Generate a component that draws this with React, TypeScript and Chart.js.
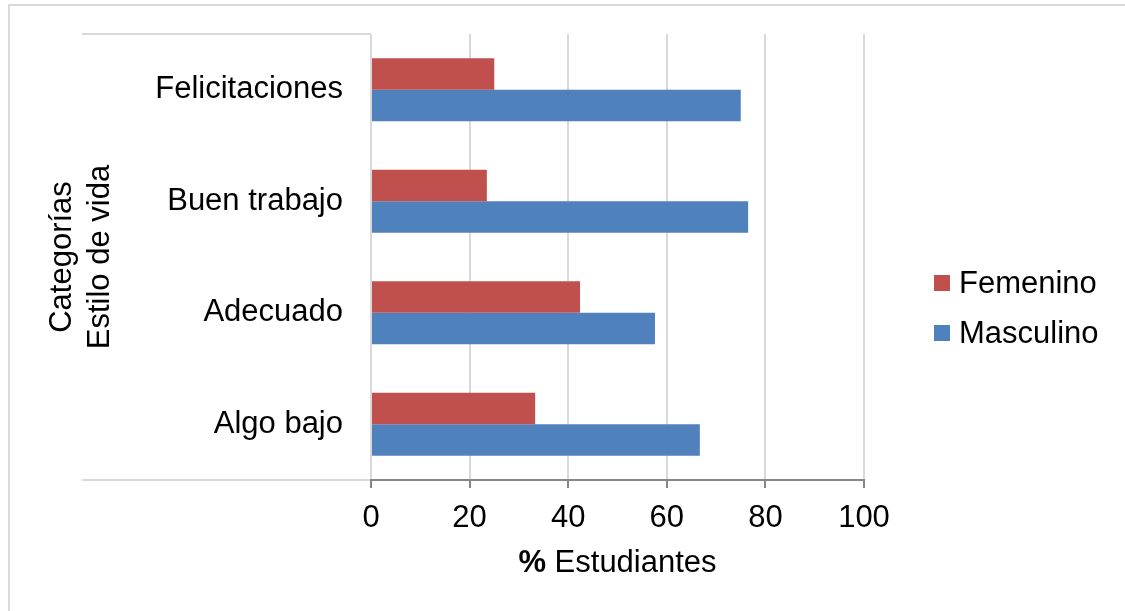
import React, { useEffect, useRef } from "react";
import { Chart, registerables } from "chart.js";

Chart.register(...registerables);

const categories = ["Felicitaciones", "Buen trabajo", "Adecuado", "Algo bajo"];
const femenino = [25, 23.5, 42.4, 33.3];
const masculino = [75, 76.5, 57.6, 66.7];
const xTicks = [0, 20, 40, 60, 80, 100];
const seriesNames = ["Femenino", "Masculino"];
const seriesColors = ["#C0504D", "#4F81BD"];
const yTitle = ["Categorías", "Estilo de vida"];
const xTitleBold = "%";
const xTitleRest = " Estudiantes";

const FONT = "'Liberation Sans', Arial, sans-serif";

const decorPlugin = {
  id: "decor",
  beforeDraw(chart: any) {
    const { ctx, chartArea } = chart;
    ctx.save();
    ctx.strokeStyle = "#d9d9d9";
    ctx.lineWidth = 2;
    // outer frame
    ctx.beginPath();
    ctx.moveTo(9, 611);
    ctx.lineTo(9, 5);
    ctx.lineTo(1125, 5);
    ctx.stroke();
    // category label area lines
    ctx.beginPath();
    ctx.moveTo(82, chartArea.top);
    ctx.lineTo(chartArea.left, chartArea.top);
    ctx.moveTo(82, chartArea.bottom);
    ctx.lineTo(chartArea.left, chartArea.bottom);
    ctx.stroke();
    ctx.restore();
  },
  afterDraw(chart: any) {
    const { ctx, chartArea } = chart;
    ctx.save();
    ctx.fillStyle = "#000";
    ctx.textBaseline = "middle";
    ctx.font = `31px ${FONT}`;
    // y title
    const cy = 257;
    ctx.save();
    ctx.translate(62, cy);
    ctx.rotate(-Math.PI / 2);
    ctx.textAlign = "center";
    ctx.fillText(yTitle[0], 0, 0);
    ctx.restore();
    ctx.save();
    ctx.translate(100, cy);
    ctx.rotate(-Math.PI / 2);
    ctx.textAlign = "center";
    ctx.fillText(yTitle[1], 0, 0);
    ctx.restore();
    // x title
    ctx.textAlign = "left";
    ctx.font = `bold 31px ${FONT}`;
    const wb = ctx.measureText(xTitleBold).width;
    ctx.font = `31px ${FONT}`;
    const wr = ctx.measureText(xTitleRest).width;
    const cx = (chartArea.left + chartArea.right) / 2;
    const sx = cx - (wb + wr) / 2;
    ctx.font = `bold 31px ${FONT}`;
    ctx.fillText(xTitleBold, sx, 563);
    ctx.font = `31px ${FONT}`;
    ctx.fillText(xTitleRest, sx + wb, 563);
    // legend
    const ly = [283, 333];
    seriesNames.forEach((name, i) => {
      ctx.fillStyle = seriesColors[i];
      ctx.fillRect(934, ly[i] - 8, 16, 16);
      ctx.fillStyle = "#000";
      ctx.fillText(name, 959, ly[i] + 1);
    });
    ctx.restore();
  },
};

export default function App() {
  const ref = useRef<HTMLCanvasElement>(null);
  useEffect(() => {
    const chart = new Chart(ref.current!, {
      type: "bar",
      data: {
        labels: categories,
        datasets: [
          {
            label: seriesNames[0],
            data: femenino,
            backgroundColor: seriesColors[0],
            categoryPercentage: 0.565,
            barPercentage: 1,
          },
          {
            label: seriesNames[1],
            data: masculino,
            backgroundColor: seriesColors[1],
            categoryPercentage: 0.565,
            barPercentage: 1,
          },
        ],
      },
      options: {
        indexAxis: "y",
        animation: false,
        responsive: false,
        maintainAspectRatio: false,
        layout: { padding: { left: 0, top: 34, right: 1125 - 864, bottom: 0 } },
        plugins: { legend: { display: false }, tooltip: { enabled: false } },
        scales: {
          x: {
            min: 0,
            max: 100,
            afterBuildTicks: (s: any) => {
              s.ticks = xTicks.map((v) => ({ value: v }));
            },
            afterFit: (s: any) => {
              s.height = 611 - 480;
              s.paddingLeft = 0;
              s.paddingRight = 0;
            },
            grid: {
              color: "#d9d9d9",
              lineWidth: 2,
              tickColor: "#868686",
              tickLength: 8,
              tickWidth: 2,
            },
            border: { color: "#868686", width: 2 },
            ticks: {
              color: "#000",
              font: { family: FONT, size: 31 },
              padding: 12,
              maxRotation: 0,
            },
          },
          y: {
            afterFit: (s: any) => {
              s.width = 371;
              s.paddingTop = 0;
              s.paddingBottom = 0;
            },
            grid: { display: false, drawTicks: false },
            border: { display: false },
            ticks: {
              color: "#000",
              font: { family: FONT, size: 31 },
              padding: 28,
            },
          },
        },
      },
      plugins: [decorPlugin],
    } as any);
    return () => chart.destroy();
  }, []);
  return (
    <div style={{ position: "fixed", left: 0, top: 0, width: 1125, height: 611, background: "#fff" }}>
      <canvas ref={ref} width={1125} height={611} style={{ display: "block" }} />
    </div>
  );
}
